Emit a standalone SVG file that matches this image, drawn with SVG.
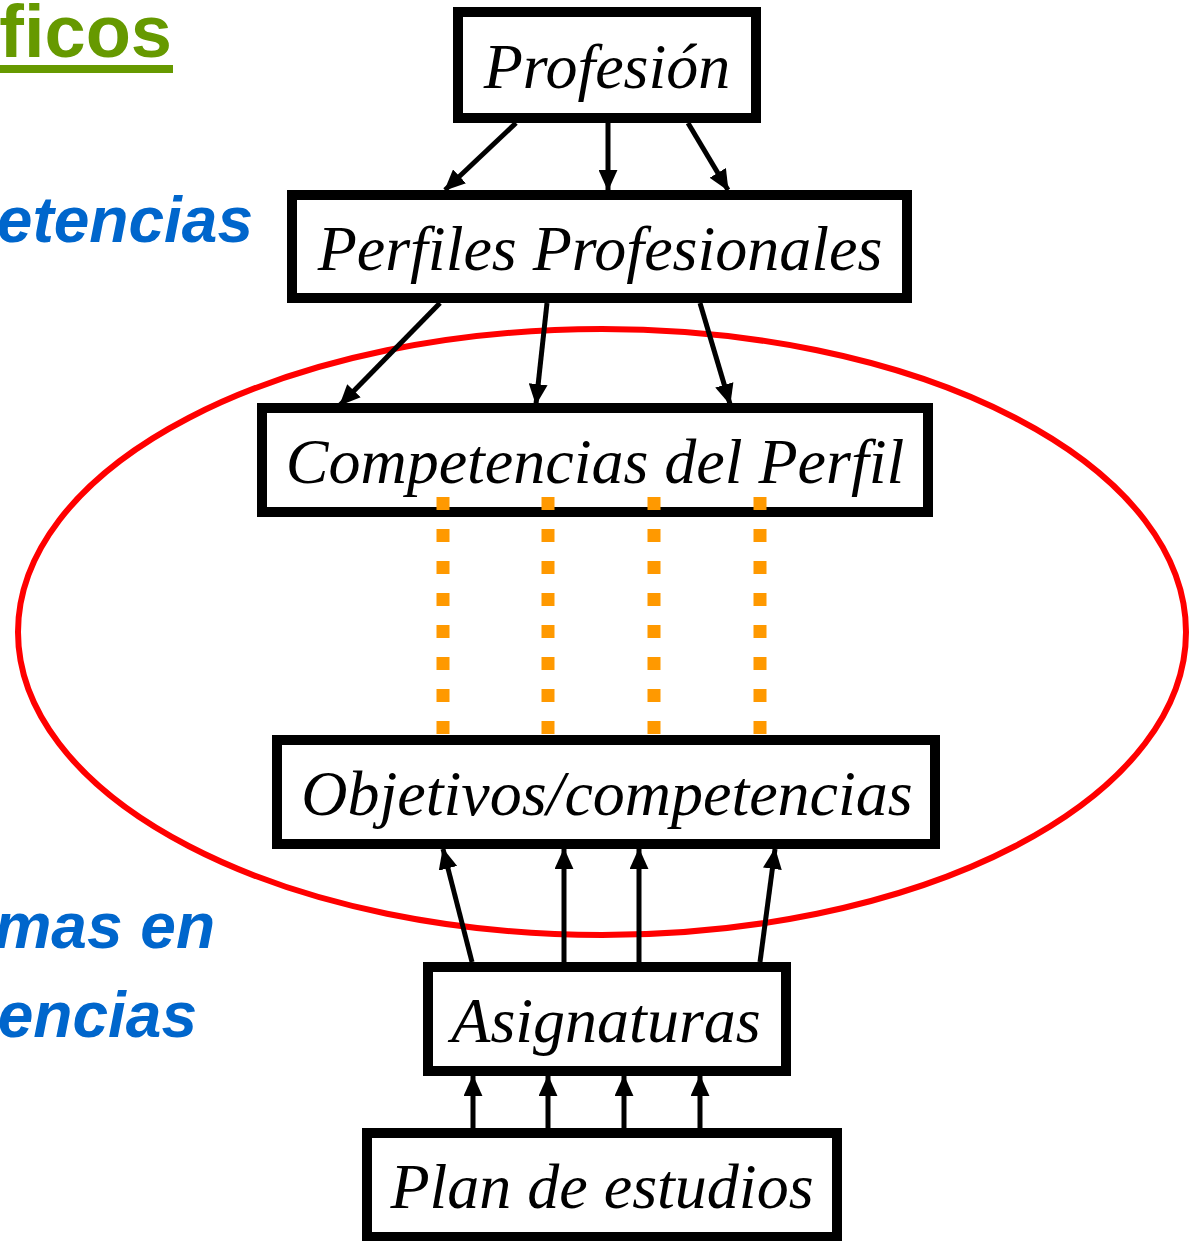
<svg xmlns="http://www.w3.org/2000/svg" width="1189" height="1241" viewBox="0 0 1189 1241">
<style>
.box{fill:#fff;stroke:#000;stroke-width:10}
.lbl{font-family:"Liberation Serif","Times New Roman",serif;font-style:italic;font-size:64px;fill:#000;text-anchor:middle}
.side{font-family:"Liberation Sans",Arial,sans-serif;font-weight:bold;font-style:italic;font-size:64px;fill:#0066cc;text-anchor:end}
.arr{stroke:#000;stroke-width:5;fill:none;marker-end:url(#ah)}
.dot{stroke:#ff9900;stroke-width:13;stroke-dasharray:13 19;fill:none}
</style>
<defs>
<marker id="ah" viewBox="0 0 20 18" refX="19" refY="9" markerWidth="21" markerHeight="19" markerUnits="userSpaceOnUse" orient="auto">
<path d="M0,0 L20,9 L0,18 z" fill="#000"/>
</marker>
</defs>
<rect width="1189" height="1241" fill="#fff"/>
<g id="side-texts">
<text x="172" y="57" font-family="Liberation Sans, Arial, sans-serif" font-weight="bold" font-size="74" fill="#669900" text-anchor="end">ficos</text>
<rect x="0" y="65" width="173" height="8" fill="#669900"/>
<text class="side" x="253" y="242">etencias</text>
<text class="side" x="215" y="948">mas en</text>
<text class="side" x="197" y="1037">encias</text>
</g>
<ellipse id="scope" cx="602" cy="632" rx="584" ry="303" fill="none" stroke="#ff0000" stroke-width="6"/>
<g id="connectors">
<line class="arr" x1="516" y1="123" x2="445" y2="190"/>
<line class="arr" x1="608" y1="123" x2="608" y2="190"/>
<line class="arr" x1="688" y1="123" x2="728" y2="190"/>
<line class="arr" x1="440" y1="303" x2="340" y2="405"/>
<line class="arr" x1="547" y1="303" x2="536" y2="404"/>
<line class="arr" x1="700" y1="303" x2="730" y2="404"/>
<line class="arr" x1="472" y1="962" x2="443" y2="849"/>
<line class="arr" x1="564" y1="962" x2="564" y2="849"/>
<line class="arr" x1="639" y1="962" x2="639" y2="849"/>
<line class="arr" x1="760" y1="962" x2="775" y2="849"/>
<line class="arr" x1="473" y1="1128" x2="473" y2="1076"/>
<line class="arr" x1="548" y1="1128" x2="548" y2="1076"/>
<line class="arr" x1="624" y1="1128" x2="624" y2="1076"/>
<line class="arr" x1="700" y1="1128" x2="700" y2="1076"/>
</g>
<g id="n-profesion"><rect class="box" x="458" y="12" width="298" height="106"/><text class="lbl" x="607" y="88">Profesión</text></g>
<g id="n-perfiles"><rect class="box" x="292" y="195" width="615" height="103"/><text class="lbl" x="600" y="270">Perfiles Profesionales</text></g>
<g id="n-competencias"><rect class="box" x="262" y="408" width="666" height="104"/><text class="lbl" x="595" y="483">Competencias del Perfil</text></g>
<g id="n-objetivos"><rect class="box" x="277" y="740" width="658" height="104"/><text class="lbl" x="607" y="815">Objetivos/competencias</text></g>
<g id="n-asignaturas"><rect class="box" x="428" y="967" width="358" height="104"/><text class="lbl" x="606" y="1042">Asignaturas</text></g>
<g id="n-plan"><rect class="box" x="367" y="1133" width="470" height="104"/><text class="lbl" x="602" y="1208">Plan de estudios</text></g>
<g id="dotted-links">
<line class="dot" x1="443" y1="497" x2="443" y2="737"/>
<line class="dot" x1="548" y1="497" x2="548" y2="737"/>
<line class="dot" x1="654" y1="497" x2="654" y2="737"/>
<line class="dot" x1="760" y1="497" x2="760" y2="737"/>
</g>
</svg>
